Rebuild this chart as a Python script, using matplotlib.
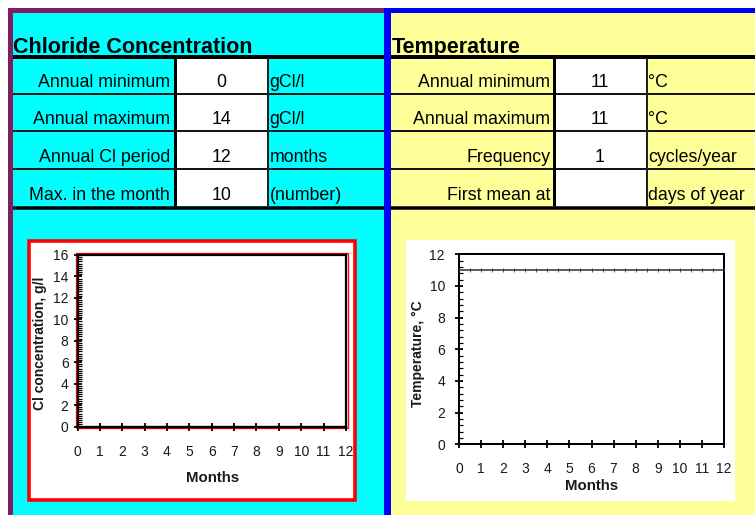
import matplotlib
matplotlib.use('Agg')
import matplotlib.pyplot as plt
from matplotlib.patches import Rectangle
from matplotlib.ticker import AutoMinorLocator

plt.rcParams['font.family'] = ['Liberation Sans', 'DejaVu Sans']

# ---------------- data ----------------
cl_title = "Chloride Concentration"
cl_labels = ["Annual minimum", "Annual maximum", "Annual Cl period", "Max. in the month"]
cl_values = ["0", "14", "12", "10"]
cl_units = ["gCl/l", "gCl/l", "months", "(number)"]

t_title = "Temperature"
t_labels = ["Annual minimum", "Annual maximum", "Frequency", "First mean at"]
t_values = ["11", "11", "1", ""]
t_units = ["°C", "°C", "cycles/year", "days of year"]

months = [0, 0.5, 1, 1.5, 2, 2.5, 3, 3.5, 4, 4.5, 5, 5.5, 6, 6.5, 7, 7.5,
          8, 8.5, 9, 9.5, 10, 10.5, 11, 11.5, 12]
chloride = [0, 0, 0, 0, 0, 0, 0, 0, 0, 0, 0, 0, 0, 0, 0, 0,
            0, 0, 0, 0, 0, 0, 0, 0, 0]
temperature = [11, 11, 11, 11, 11, 11, 11, 11, 11, 11, 11, 11, 11, 11, 11, 11,
               11, 11, 11, 11, 11, 11, 11, 11, 11]
month_ticks = [0, 1, 2, 3, 4, 5, 6, 7, 8, 9, 10, 11, 12]
cl_yticks = [0, 2, 4, 6, 8, 10, 12, 14, 16]
t_yticks = [0, 2, 4, 6, 8, 10, 12]

# ---------------- layout ----------------
W, H, DPI = 755, 515, 100
fig = plt.figure(figsize=(W / DPI, H / DPI), dpi=DPI)
fig.patch.set_facecolor('white')
bg = fig.add_axes([0, 0, 1, 1])
bg.set_xlim(0, W)
bg.set_ylim(H, 0)
bg.axis('off')


def pt(v):
    return v * 72.0 / DPI


def rect(x0, y0, x1, y1, fc, z=1):
    bg.add_patch(Rectangle((x0, y0), x1 - x0, y1 - y0, facecolor=fc,
                           edgecolor='none', zorder=z))


def hline(x0, x1, y, w, c='black', z=3):
    bg.plot([x0, x1], [y, y], color=c, lw=pt(w), solid_capstyle='butt', zorder=z)


def vline(x, y0, y1, w, c='black', z=3):
    bg.plot([x, x], [y0, y1], color=c, lw=pt(w), solid_capstyle='butt', zorder=z)


CYAN = '#00FFFF'
YELLOW = '#FFFF99'
PURPLE = '#7E1F5E'
BLUE = '#0000FF'
RED = '#FF0000'

# panels
rect(13, 13, 384, H, CYAN)
rect(391, 13, W, H, YELLOW)
rect(8, 8, 13, H, PURPLE, z=2)
rect(8, 8, 384, 13, PURPLE, z=2)
rect(384, 8, 391, H, BLUE, z=2)
rect(384, 8, W, 13, BLUE, z=2)

# white value cells
rect(176, 58, 267, 206, 'white')
rect(556, 58, 646, 206, 'white')

# table lines
for (xa, xb) in [(13, 384), (391, W)]:
    hline(xa, xb, 56.5, 4)
    hline(xa, xb, 207.5, 3.5)
    for y in [94, 131, 169]:
        hline(xa, xb, y, 2, c='#151515')
vline(174.7, 58, 206, 3)
vline(267.7, 58, 206, 2, c='#202020')
vline(554.2, 58, 206, 3)
vline(646.5, 58, 206, 2, c='#202020')

# texts
TFS = 12.8
bg.text(13, 53, cl_title, fontsize=15.5, fontweight='bold', va='baseline', ha='left', zorder=5)
bg.text(392, 53, t_title, fontsize=15.5, fontweight='bold', va='baseline', ha='left', zorder=5)
baselines = [87, 124, 162, 200]
for i, yb in enumerate(baselines):
    bg.text(170, yb, cl_labels[i], fontsize=TFS, ha='right', va='baseline', zorder=5)
    bg.text(221.5, yb, cl_values[i], fontsize=TFS, ha='center', va='baseline', zorder=5)
    bg.text(269.5, yb, cl_units[i], fontsize=TFS, ha='left', va='baseline', zorder=5)
    bg.text(550, yb, t_labels[i], fontsize=TFS, ha='right', va='baseline', zorder=5)
    bg.text(600, yb, t_values[i], fontsize=TFS, ha='center', va='baseline', zorder=5)
    bg.text(648, yb, t_units[i], fontsize=TFS, ha='left', va='baseline', zorder=5)

# chart areas
bg.add_patch(Rectangle((28.8, 240.8), 355.2 - 28.8, 500.2 - 240.8, facecolor='white',
                       edgecolor=RED, lw=pt(3.6), zorder=2))
rect(406, 240, 735, 501, 'white', z=2)
# red outline of the chloride plot area
bg.add_patch(Rectangle((75.8, 253.3), 347.6 - 75.8, 428.3 - 253.3, facecolor='none',
                       edgecolor=RED, lw=pt(1.3), zorder=3))


def ax_px(x0, y0, x1, y1):
    return fig.add_axes([x0 / W, 1 - y1 / H, (x1 - x0) / W, (y1 - y0) / H])


TICKFS = 10
LABFS = 10
TC = '#1a1a1a'


def style_axis(ax, ylim, yticks, nminor, lw, ypad, xpad):
    ax.set_facecolor('none')
    ax.set_xlim(0, 12)
    ax.set_ylim(*ylim)
    ax.set_xticks(month_ticks)
    ax.set_yticks(yticks)
    ax.yaxis.set_minor_locator(AutoMinorLocator(nminor))
    for s in ax.spines.values():
        s.set_linewidth(pt(lw))
        s.set_color('black')
    ax.tick_params(axis='both', which='major', direction='inout', length=pt(8),
                   width=pt(1.8), colors='black', labelcolor=TC, labelsize=TICKFS)
    ax.tick_params(axis='y', which='major', pad=pt(ypad))
    ax.tick_params(axis='x', which='major', pad=pt(xpad))
    ax.tick_params(axis='y', which='minor', direction='in', length=pt(3.5),
                   width=pt(1.2), colors='black')
    ax.tick_params(axis='x', which='minor', bottom=False)


# chloride chart
ax1 = ax_px(77.5, 255, 346, 426.5)
style_axis(ax1, (0, 16), cl_yticks, 10, 2.2, 5, 14)
ax1.plot(months, chloride, color='black', lw=pt(2.2), clip_on=False, zorder=4)
fig.text(40 / W, 1 - 343 / H, "Cl concentration, g/l", rotation=90, ha='center', va='center',
         fontsize=LABFS, fontweight='bold', color=TC)
fig.text(213 / W, 1 - 478 / H, "Months", ha='center', va='center',
         fontsize=10.8, fontweight='bold', color=TC)

# temperature chart
ax2 = ax_px(459, 254.3, 724, 444.3)
style_axis(ax2, (0, 12), t_yticks, 5, 2.0, 10, 14)
ax2.plot(months, temperature, color='#2a2a2a', lw=pt(1.5), marker='|', ms=pt(3.5),
         mew=pt(0.8), zorder=4)
fig.text(418 / W, 1 - 353.5 / H, "Temperature, °C", rotation=90, ha='center', va='center',
         fontsize=LABFS, fontweight='bold', color=TC)
fig.text(592 / W, 1 - 486 / H, "Months", ha='center', va='center',
         fontsize=10.8, fontweight='bold', color=TC)

fig.savefig('out.png', dpi=DPI)
